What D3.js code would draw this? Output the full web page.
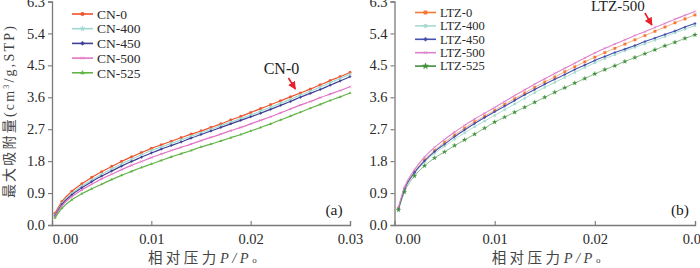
<!DOCTYPE html>
<html>
<head>
<meta charset="utf-8">
<script src="https://cdn.jsdelivr.net/npm/d3@7"></script>
<style>
  body { margin: 0; background: #fff; }
  svg { display: block; font-family: "Liberation Serif", "Noto Sans CJK SC", serif; }
</style>
</head>
<body>
<svg id="chart" width="700" height="268"></svg>
<script>
// relative pressure grids (P/P0)
const pGridCN = [0.0003, 0.001, 0.002, 0.003, 0.004, 0.005, 0.006, 0.007, 0.008, 0.009, 0.010,
  0.011, 0.012, 0.013, 0.014, 0.015, 0.016, 0.017, 0.018, 0.019, 0.020,
  0.021, 0.022, 0.023, 0.024, 0.025, 0.026, 0.027, 0.028, 0.029, 0.030];
const pGridLTZ = [0.0004, 0.001, 0.002, 0.003, 0.004, 0.005, 0.006, 0.007, 0.008, 0.009, 0.010,
  0.011, 0.012, 0.013, 0.014, 0.015, 0.016, 0.017, 0.018, 0.019, 0.020,
  0.021, 0.022, 0.023, 0.024, 0.025, 0.026, 0.027, 0.028, 0.029, 0.030];

// (a) CN samples
const cnNames = ["CN-0", "CN-400", "CN-450", "CN-500", "CN-525"];
const cn0 = [0.33,0.66,0.95,1.16,1.34,1.50,1.65,1.79,1.92,2.04,2.16,2.26,2.36,2.46,2.56,2.65,2.75,2.85,2.96,3.06,3.17,3.28,3.39,3.50,3.61,3.72,3.83,3.95,4.07,4.18,4.30];
const cn400 = [0.28,0.61,0.89,1.10,1.27,1.43,1.58,1.72,1.85,1.98,2.10,2.20,2.30,2.40,2.50,2.60,2.70,2.80,2.90,3.00,3.10,3.21,3.32,3.43,3.54,3.66,3.77,3.89,4.01,4.13,4.25];
const cn450 = [0.26,0.58,0.85,1.05,1.22,1.38,1.52,1.66,1.79,1.91,2.03,2.14,2.24,2.34,2.45,2.55,2.65,2.75,2.85,2.95,3.05,3.15,3.26,3.37,3.48,3.60,3.71,3.82,3.94,4.06,4.18];
const cn500 = [0.24,0.54,0.80,0.99,1.15,1.30,1.43,1.56,1.68,1.79,1.90,2.00,2.10,2.19,2.28,2.38,2.47,2.56,2.66,2.75,2.85,2.95,3.05,3.16,3.27,3.38,3.48,3.59,3.69,3.79,3.90];
const cn525 = [0.20,0.47,0.71,0.88,1.02,1.15,1.28,1.40,1.51,1.62,1.72,1.82,1.92,2.01,2.10,2.20,2.28,2.37,2.46,2.55,2.65,2.75,2.85,2.96,3.07,3.18,3.29,3.40,3.51,3.61,3.72];

// (b) LTZ samples
const ltzNames = ["LTZ-0", "LTZ-400", "LTZ-450", "LTZ-500", "LTZ-525"];
const ltz0 = [0.47,1.02,1.50,1.84,2.10,2.33,2.54,2.73,2.91,3.07,3.23,3.40,3.56,3.72,3.88,4.03,4.17,4.32,4.46,4.60,4.73,4.86,4.98,5.10,5.22,5.34,5.46,5.58,5.70,5.81,5.92];
const ltz400 = [0.45,0.99,1.45,1.77,2.02,2.22,2.42,2.60,2.77,2.93,3.09,3.25,3.41,3.57,3.73,3.88,4.02,4.16,4.30,4.44,4.57,4.69,4.80,4.91,5.01,5.11,5.21,5.31,5.42,5.52,5.62];
const ltz450 = [0.46,1.01,1.48,1.81,2.07,2.28,2.49,2.68,2.86,3.03,3.19,3.35,3.51,3.67,3.82,3.97,4.11,4.24,4.38,4.51,4.64,4.75,4.86,4.96,5.06,5.17,5.27,5.37,5.47,5.58,5.68];
const ltz500 = [0.50,1.07,1.56,1.92,2.19,2.41,2.62,2.81,2.99,3.15,3.31,3.48,3.65,3.81,3.97,4.12,4.27,4.42,4.56,4.71,4.85,4.98,5.10,5.22,5.34,5.45,5.57,5.68,5.80,5.91,6.02];
const ltz525 = [0.42,0.93,1.38,1.67,1.89,2.06,2.24,2.40,2.56,2.73,2.90,3.04,3.18,3.32,3.46,3.60,3.74,3.87,4.00,4.13,4.26,4.38,4.49,4.61,4.72,4.83,4.94,5.05,5.15,5.26,5.36];

const xTicks = [0, 0.01, 0.02, 0.03];
const yTicks = [0, 0.9, 1.8, 2.7, 3.6, 4.5, 5.4, 6.3];

const svg = d3.select("#chart");
const axisColor = "#7a7a7a";

const y = d3.scaleLinear().domain([0, 6.3]).range([225, 1.5]);

function drawPanel(opt) {
  const x = d3.scaleLinear().domain([0, 0.03]).range([opt.left, opt.right]);
  const g = svg.append("g");

  // y axis
  const yAx = g.append("g")
    .attr("transform", `translate(${opt.left},0)`)
    .call(d3.axisLeft(y).tickValues(yTicks).tickFormat(d3.format(".1f")).tickSizeOuter(0).tickSize(4).tickPadding(3));
  // x axis (ticks pointing inward)
  const xAx = g.append("g")
    .attr("transform", "translate(0,225)")
    .call(d3.axisBottom(x).tickValues(xTicks).tickFormat(d3.format(".2f")).tickSizeOuter(0).tickSize(-4).tickPadding(9));
  xAx.selectAll(".tick").filter(d => d === 0).select("line").remove();
  xAx.selectAll(".tick text").filter(d => d === 0).attr("dx", 13);

  [yAx, xAx].forEach(a => {
    a.select(".domain").attr("stroke", axisColor).attr("stroke-width", 1.3);
    a.selectAll(".tick line").attr("stroke", axisColor).attr("stroke-width", 1.1);
    a.selectAll(".tick text").attr("fill", "#2a2a2a").attr("font-size", 14.5)
      .attr("font-family", "Liberation Serif, serif");
  });

  // series
  opt.series.forEach(s => {
    const pts = opt.grid.map((p, i) => [p, s.values[i]]);
    const line = d3.line().x(d => x(d[0])).y(d => y(d[1])).curve(d3.curveMonotoneX);
    g.append("path").attr("d", line(pts))
      .attr("fill", "none").attr("stroke", s.color).attr("stroke-width", s.width || 1.2);
    const sym = d3.symbol().type(s.symbol).size(s.size);
    g.append("g").selectAll("path").data(pts).enter().append("path")
      .attr("transform", d => `translate(${x(d[0])},${y(d[1])})`)
      .attr("d", sym)
      .attr("fill", s.hollow ? "none" : s.color)
      .attr("stroke", s.color).attr("stroke-width", s.hollow ? 0.7 : 0.2);
  });

  // legend
  const lg = g.append("g");
  opt.series.forEach((s, i) => {
    const ly = opt.legend.y + i * opt.legend.step;
    lg.append("line")
      .attr("x1", opt.legend.x).attr("x2", opt.legend.x + 21)
      .attr("y1", ly).attr("y2", ly)
      .attr("stroke", s.color).attr("stroke-width", 1.6);
    lg.append("path")
      .attr("transform", `translate(${opt.legend.x + 10.5},${ly})`)
      .attr("d", d3.symbol().type(s.symbol).size(s.size + 3))
      .attr("fill", s.hollow ? "none" : s.color).attr("stroke", s.color).attr("stroke-width", 0.7);
    lg.append("text")
      .attr("x", opt.legend.x + 25).attr("y", ly).attr("dy", "0.35em")
      .attr("font-size", opt.legend.fs).attr("fill", "#2a2a2a")
      .attr("font-family", "Liberation Serif, serif")
      .text(s.name);
  });

  // panel letter
  g.append("text").attr("x", opt.tagX).attr("y", 210).attr("dy", "0.35em")
    .attr("text-anchor", "middle").attr("font-size", 15.5).attr("fill", "#222")
    .text(opt.tag);

  // x axis title
  const xt = g.append("text").attr("x", (opt.left + opt.right) / 2 + 3).attr("y", 263)
    .attr("text-anchor", "middle").attr("font-size", 14.5).attr("fill", "#444")
    .attr("letter-spacing", 3.5);
  xt.append("tspan").attr("font-family", "Noto Sans CJK SC, sans-serif").text("相对压力");
  xt.append("tspan").attr("font-style", "italic").attr("font-family", "Liberation Serif, serif").text("P/P");
  xt.append("tspan").attr("font-size", 9).attr("font-family", "Liberation Serif, serif").text("o");

  return x;
}

const xa = drawPanel({
  left: 52, right: 350, grid: pGridCN, tag: "(a)", tagX: 334,
  legend: { x: 72, y: 14, step: 14.7, fs: 13.5 },
  series: [
    { name: cnNames[0], values: cn0, color: "#f0522a", symbol: d3.symbolCircle, size: 6 },
    { name: cnNames[1], values: cn400, color: "#9fd9d2", symbol: d3.symbolStar, size: 4 },
    { name: cnNames[2], values: cn450, color: "#3f3f98", symbol: d3.symbolCross, size: 3 },
    { name: cnNames[3], values: cn500, color: "#e274c4", symbol: d3.symbolTimes, size: 4, hollow: true },
    { name: cnNames[4], values: cn525, color: "#62b447", symbol: d3.symbolTriangle, size: 3 }
  ]
});

const xb = drawPanel({
  left: 394.5, right: 695, grid: pGridLTZ, tag: "(b)", tagX: 680,
  legend: { x: 415, y: 12.5, step: 13.4, fs: 12.5 },
  series: [
    { name: ltzNames[0], values: ltz0, color: "#f47a35", symbol: d3.symbolSquare, size: 7, width: 0.6 },
    { name: ltzNames[1], values: ltz400, color: "#a6dccf", symbol: d3.symbolSquare, size: 5, width: 0.9 },
    { name: ltzNames[2], values: ltz450, color: "#4552ad", symbol: d3.symbolCross, size: 3, width: 1.1 },
    { name: ltzNames[3], values: ltz500, color: "#dc82cc", symbol: d3.symbolTimes, size: 4, hollow: true, width: 1.1 },
    { name: ltzNames[4], values: ltz525, color: "#3e8f3a", symbol: d3.symbolStar, size: 7, width: 0.6 }
  ]
});

// y axis title
const yt = svg.append("text")
  .attr("transform", "translate(14,111) rotate(-90)")
  .attr("text-anchor", "middle").attr("font-size", 14).attr("fill", "#444")
  .attr("letter-spacing", 2.2);
yt.append("tspan").attr("font-family", "Noto Sans CJK SC, sans-serif").text("最大吸附量");
yt.append("tspan").text("(cm");
yt.append("tspan").attr("font-size", 8).attr("dy", -5).text("3");
yt.append("tspan").attr("dy", 5).text("/g,STP)");

// annotations with red arrows
svg.append("defs").append("marker")
  .attr("id", "arr").attr("viewBox", "0 0 10 10").attr("refX", 9).attr("refY", 5)
  .attr("markerWidth", 5).attr("markerHeight", 5).attr("orient", "auto")
  .append("path").attr("d", "M0,0L10,5L0,10z").attr("fill", "#e8202a");

svg.append("text").attr("x", xa(0.0231)).attr("y", 74).attr("text-anchor", "middle")
  .attr("font-size", 16).attr("fill", "#222").text("CN-0");
svg.append("line").attr("x1", xa(0.0238)).attr("y1", 78).attr("x2", xa(0.0245)).attr("y2", 89)
  .attr("stroke", "#e8202a").attr("stroke-width", 1.6).attr("marker-end", "url(#arr)");

svg.append("text").attr("x", xb(0.0223)).attr("y", 11).attr("text-anchor", "middle")
  .attr("font-size", 15).attr("fill", "#222").text("LTZ-500");
svg.append("line").attr("x1", xb(0.0250)).attr("y1", 13).attr("x2", xb(0.0257)).attr("y2", 25)
  .attr("stroke", "#e8202a").attr("stroke-width", 1.6).attr("marker-end", "url(#arr)");
</script>
</body>
</html>
